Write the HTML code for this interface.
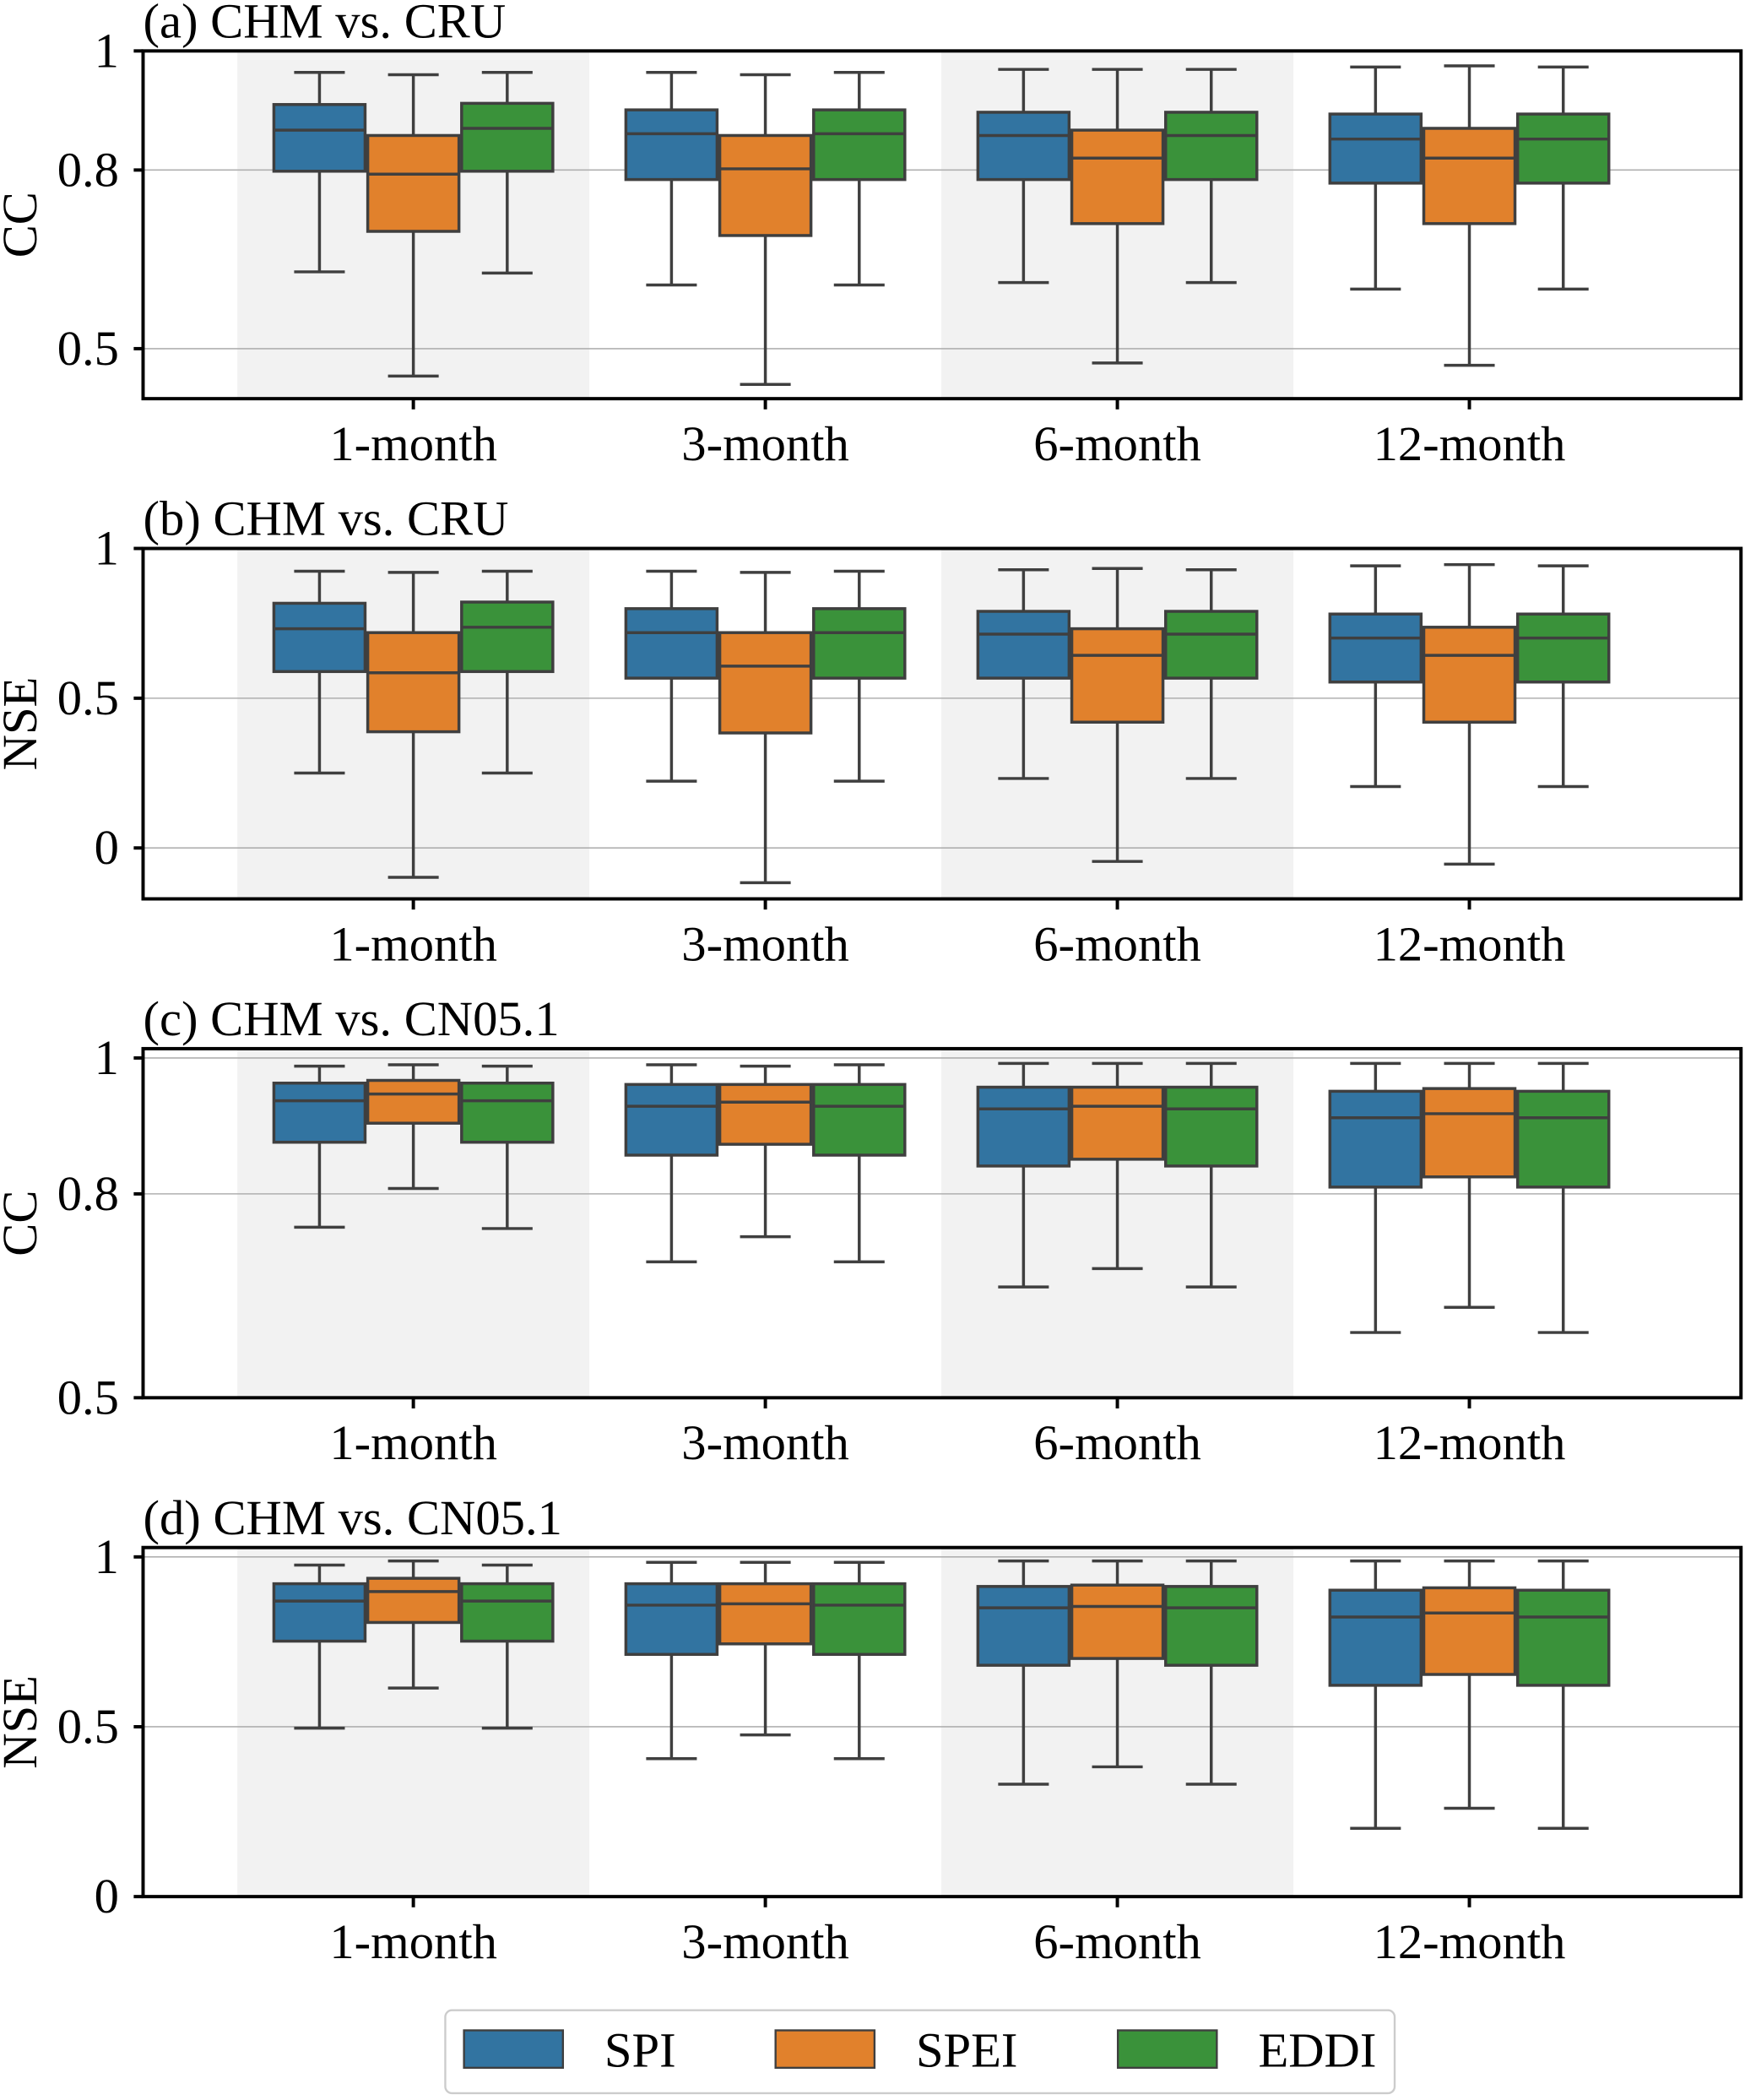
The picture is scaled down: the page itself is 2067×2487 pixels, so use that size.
<!DOCTYPE html>
<html><head><meta charset="utf-8"><style>
html,body{margin:0;padding:0;background:#fff}
svg{display:block}
text{font-family:"Liberation Serif","Times New Roman",serif;fill:#000}
</style></head><body>
<svg id="chart" xmlns="http://www.w3.org/2000/svg" width="2067" height="2487" viewBox="0 0 1305 1570"></svg>
<script>
const categories = ["1-month","3-month","6-month","12-month"];
const seriesNames = ["SPI","SPEI","EDDI"];
const seriesColors = ["#3274a1","#e1812c","#3a923a"];
// each box: [whiskerHigh, q3, median, q1, whiskerLow]
const panelA_SPI  = [[0.964,0.910,0.867,0.798,0.629],[0.964,0.901,0.861,0.784,0.607],[0.969,0.897,0.858,0.784,0.611],[0.973,0.894,0.852,0.778,0.600]];
const panelA_SPEI = [[0.960,0.858,0.793,0.697,0.454],[0.960,0.858,0.802,0.690,0.440],[0.969,0.867,0.820,0.710,0.476],[0.975,0.870,0.820,0.710,0.472]];
const panelA_EDDI = [[0.964,0.912,0.870,0.798,0.627],[0.964,0.901,0.861,0.784,0.607],[0.969,0.897,0.858,0.784,0.611],[0.973,0.894,0.852,0.778,0.600]];
const panelB_SPI  = [[0.924,0.817,0.732,0.589,0.250],[0.924,0.799,0.719,0.567,0.223],[0.929,0.790,0.714,0.567,0.232],[0.942,0.781,0.701,0.554,0.205]];
const panelB_SPEI = [[0.920,0.719,0.585,0.388,-0.098],[0.920,0.719,0.607,0.384,-0.116],[0.933,0.732,0.643,0.420,-0.045],[0.946,0.737,0.643,0.420,-0.054]];
const panelB_EDDI = [[0.924,0.821,0.737,0.589,0.250],[0.924,0.799,0.719,0.567,0.223],[0.929,0.790,0.714,0.567,0.232],[0.942,0.781,0.701,0.554,0.205]];
const panelC_SPI  = [[0.988,0.963,0.937,0.876,0.751],[0.990,0.961,0.929,0.857,0.700],[0.992,0.957,0.925,0.841,0.663],[0.992,0.951,0.912,0.810,0.596]];
const panelC_SPEI = [[0.990,0.967,0.947,0.904,0.808],[0.988,0.961,0.935,0.873,0.737],[0.992,0.957,0.929,0.851,0.690],[0.992,0.955,0.918,0.825,0.633]];
const panelC_EDDI = [[0.988,0.963,0.937,0.876,0.749],[0.990,0.961,0.929,0.857,0.700],[0.992,0.957,0.925,0.841,0.663],[0.992,0.951,0.912,0.810,0.596]];
const panelD_SPI  = [[0.976,0.921,0.870,0.752,0.496],[0.984,0.921,0.858,0.713,0.406],[0.988,0.913,0.850,0.681,0.331],[0.988,0.902,0.823,0.622,0.201]];
const panelD_SPEI = [[0.988,0.937,0.898,0.807,0.614],[0.984,0.921,0.862,0.744,0.476],[0.988,0.917,0.854,0.701,0.382],[0.988,0.909,0.835,0.654,0.260]];
const panelD_EDDI = [[0.976,0.921,0.870,0.752,0.496],[0.984,0.921,0.858,0.713,0.406],[0.988,0.913,0.850,0.681,0.331],[0.988,0.902,0.823,0.622,0.201]];
const ticksA = [1,0.8,0.5]; const tickLabelsA = ["1","0.8","0.5"];
const ticksB = [1,0.5,0];   const tickLabelsB = ["1","0.5","0"];
const ticksC = [1,0.8,0.5]; const tickLabelsC = ["1","0.8","0.5"];
const ticksD = [1,0.5,0];   const tickLabelsD = ["1","0.5","0"];
const panels = [
 {id:"a",title:"(a) CHM vs. CRU",ylabel:"CC",top:38,bottom:298,min:0.416,max:1,data:[panelA_SPI,panelA_SPEI,panelA_EDDI],ticks:ticksA,labels:tickLabelsA},
 {id:"b",title:"(b) CHM vs. CRU",ylabel:"NSE",top:410,bottom:672,min:-0.17,max:1,data:[panelB_SPI,panelB_SPEI,panelB_EDDI],ticks:ticksB,labels:tickLabelsB},
 {id:"c",title:"(c) CHM vs. CN05.1",ylabel:"CC",top:784,bottom:1045,min:0.5,max:1.0137,data:[panelC_SPI,panelC_SPEI,panelC_EDDI],ticks:ticksC,labels:tickLabelsC},
 {id:"d",title:"(d) CHM vs. CN05.1",ylabel:"NSE",top:1157,bottom:1418,min:0,max:1.0276,data:[panelD_SPI,panelD_SPEI,panelD_EDDI],ticks:ticksD,labels:tickLabelsD}
];
const NS="http://www.w3.org/2000/svg";
const svg=document.getElementById('chart');
function mk(tag,attrs,parent){const e=document.createElementNS(NS,tag);for(const k in attrs)e.setAttribute(k,attrs[k]);(parent||svg).appendChild(e);return e;}
const L=107,R=1302,X0=177.5,step=263.25;
function xc(i){return X0+step*(i+0.5);}
const boxW=step*0.8/3;
const FS=37;
panels.forEach(p=>{
  const g=mk('g',{});
  
  
  const y=v=>p.bottom-(v-p.min)/(p.max-p.min)*(p.bottom-p.top);
  [0,2].forEach(i=>{const r=mk('rect',{x:xc(i)-step/2,y:p.top,width:step,height:p.bottom-p.top,fill:'#f2f2f2'},g);
    });
  p.ticks.forEach((t,k)=>{
    const gl=mk('line',{x1:L,x2:R,y1:y(t),y2:y(t),stroke:'#b0b0b0','stroke-width':1},g);
    
    mk('line',{x1:L-7,x2:L,y1:y(t),y2:y(t),stroke:'#000','stroke-width':2.5},g);
    const tx=mk('text',{x:L-18,y:y(t)+12,'text-anchor':'end','font-size':FS},g);tx.textContent=p.labels[k];
    
  });
  p.data.forEach((ser,s)=>{
    ser.forEach((b,i)=>{
      const cx=xc(i)+(s-1)*boxW;
      const bg=mk('g',{},g);
      
      
      const st={stroke:'#3f3f3f','stroke-width':2.2};
      mk('line',Object.assign({x1:cx,x2:cx,y1:y(b[0]),y2:y(b[1])},st),bg);
      mk('line',Object.assign({x1:cx,x2:cx,y1:y(b[3]),y2:y(b[4])},st),bg);
      const cw=boxW*0.27;
      mk('line',Object.assign({x1:cx-cw,x2:cx+cw,y1:y(b[0]),y2:y(b[0])},st),bg);
      mk('line',Object.assign({x1:cx-cw,x2:cx+cw,y1:y(b[4]),y2:y(b[4])},st),bg);
      mk('rect',Object.assign({x:cx-boxW/2+1,y:y(b[1]),width:boxW-2,height:y(b[3])-y(b[1]),fill:seriesColors[s]},st),bg);
      mk('line',Object.assign({x1:cx-boxW/2+1,x2:cx+boxW/2-1,y1:y(b[2]),y2:y(b[2])},st),bg);
    });
  });
  mk('rect',{x:L,y:p.top,width:R-L,height:p.bottom-p.top,fill:'none',stroke:'#000','stroke-width':2.5},g);
  categories.forEach((c,i)=>{
    mk('line',{x1:xc(i),x2:xc(i),y1:p.bottom,y2:p.bottom+8,stroke:'#000','stroke-width':2.5},g);
    const t=mk('text',{x:xc(i),y:p.bottom+46,'text-anchor':'middle','font-size':FS},g);t.textContent=c;
    
  });
  const tt=mk('text',{x:L,y:p.top-10,'font-size':FS},g);tt.textContent=p.title;
  
  const ym=(p.top+p.bottom)/2;
  const yl=mk('text',{x:0,y:0,transform:`translate(27,${ym}) rotate(-90)`,'text-anchor':'middle','font-size':FS},g);yl.textContent=p.ylabel;
  
});
const lg=mk('g',{});


mk('rect',{x:333,y:1503,width:710,height:62,rx:5,fill:'#fff',stroke:'#cccccc','stroke-width':1.5},lg);
const lx=[347,580,836];
seriesNames.forEach((n,s)=>{
  const e=mk('g',{},lg);
  
  
  mk('rect',{x:lx[s],y:1518,width:74,height:28,fill:seriesColors[s],stroke:'#3f3f3f','stroke-width':1.5},e);
  const t=mk('text',{x:lx[s]+105,y:1545,'font-size':FS},e);t.textContent=n;
});
</script>
</body></html>
